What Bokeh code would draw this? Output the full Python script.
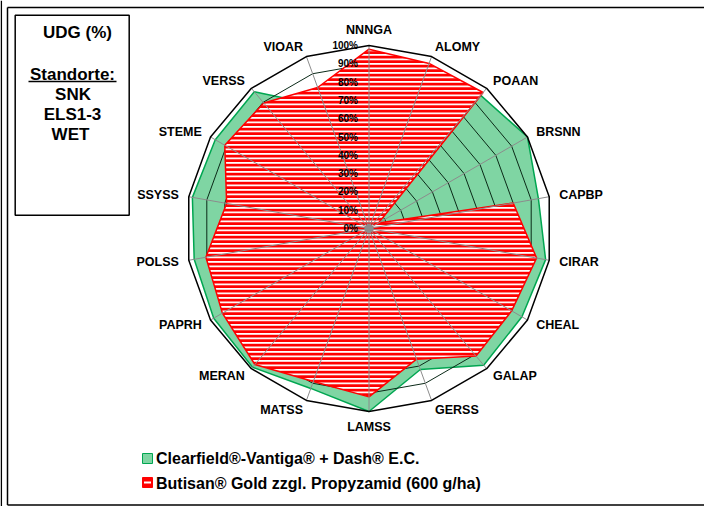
import math
from bokeh.plotting import figure
from bokeh.models import Range1d
from bokeh.core.properties import value
from bokeh.embed import file_html
from bokeh.resources import INLINE

# ---------------- data ----------------
categories = ["NNNGA", "ALOMY", "POAAN", "BRSNN", "CAPBP", "CIRAR", "CHEAL", "GALAP", "GERSS",
              "LAMSS", "MATSS", "MERAN", "PAPRH", "POLSS", "SSYSS", "STEME", "VERSS", "VIOAR"]
clearfield = [90, 90, 95, 100, 94, 98, 96.5, 97.5, 82, 100, 93, 99, 98, 97, 98, 97, 97.5, 71]
butisan = [98, 96, 97, 6, 80, 93, 90, 91, 76, 92, 89, 97, 92.5, 90.5, 79, 91, 89.5, 82]
levels = [0, 10, 20, 30, 40, 50, 60, 70, 80, 90, 100]
tick_labels = ["0%", "10%", "20%", "30%", "40%", "50%", "60%", "70%", "80%", "90%", "100%"]
series_names = ["Clearfield\u00ae-Vantiga\u00ae + Dash\u00ae E.C.",
                "Butisan\u00ae Gold zzgl. Propyzamid (600 g/ha)"]
info_lines = ["UDG (%)", "Standorte:", "SNK", "ELS1-3", "WET"]

# ---------------- geometry ----------------
W, H = 704, 506
CX, CY = 376.5, 236.0     # page pixel position of the radar centre
S = 1.83                  # pixels per percent


def px(xp):
    return (xp - CX) / S


def py(yp):
    return (CY - yp) / S


FONT = value("Liberation Sans")
n = len(categories)
ang = [2 * math.pi * i / n for i in range(n)]


def poly(vals):
    xs = [v * math.sin(a) for v, a in zip(vals, ang)]
    ys = [v * math.cos(a) for v, a in zip(vals, ang)]
    return xs, ys


p = figure(width=W, height=H, output_backend="svg", toolbar_location=None,
           x_range=Range1d(px(8), px(8 + W)), y_range=Range1d(py(8 + H), py(8)),
           x_axis_location=None, y_axis_location=None, min_border=0)
p.grid.visible = False
p.outline_line_color = None
p.background_fill_color = "white"

GREEN_FILL = "#7fd5a3"
GREEN_LINE = "#00a651"

# green series (behind)
gx, gy = poly(clearfield)
p.patch(gx, gy, fill_color=GREEN_FILL, line_color=GREEN_LINE, line_width=1.5)

# concentric gridlines 10..90
for lv in levels[1:-1]:
    xs, ys = poly([lv] * n)
    p.line(xs + [xs[0]], ys + [ys[0]], line_color="#0b2a18", line_width=1)

# red hatched series
rx, ry = poly(butisan)
p.patch(rx, ry, fill_color="white", hatch_pattern="horizontal_line", hatch_color="#ff0000",
        hatch_scale=4.5, hatch_weight=3, line_color="#ff0000", line_width=1.5)

# spokes
sx, sy = poly([100] * n)
p.segment(x0=[0] * n, y0=[0] * n, x1=sx, y1=sy, line_color="#8c8c8c", line_width=1)
p.scatter([0], [0], size=9, fill_color="#8c8c8c", line_color=None)

# outer 100% polygon
p.line(sx + [sx[0]], sy + [sy[0]], line_color="black", line_width=1.5)

# percentage labels
p.text(x=[px(CX - 11)] * len(levels), y=levels, text=tick_labels, text_align="right",
       text_baseline="middle", text_font=FONT, text_font_style="bold",
       text_font_size="10px", text_color="black")

# category labels
lx, ly, la = [], [], []
for c, a in zip(categories, ang):
    deg = round(math.degrees(a))
    if deg in (0, 180):
        r = 108.5
        al = "center"
    else:
        r = 105.5
        al = "left" if deg < 180 else "right"
    lx.append(r * math.sin(a))
    ly.append(r * math.cos(a))
    la.append(al)
for al in ("left", "right", "center"):
    idx = [i for i in range(n) if la[i] == al]
    p.text(x=[lx[i] for i in idx], y=[ly[i] for i in idx], text=[categories[i] for i in idx],
           text_align=al, text_baseline="middle", text_font=FONT, text_font_style="bold",
           text_font_size="12.5px", text_color="black")

# frame lines
p.segment(x0=[px(8.8)], y0=[py(8)], x1=[px(8.8)], y1=[py(8 + H)], line_color="black", line_width=1.5)
p.segment(x0=[px(15), px(15), px(15)], y0=[py(15), py(15), py(512.5)],
          x1=[px(15), px(8 + W), px(8 + W)], y1=[py(512.5), py(15), py(512.5)],
          line_color="black", line_width=1.5)

# info box
p.quad(left=[px(22.7)], right=[px(136.7)], top=[py(22.7)], bottom=[py(222.7)],
       fill_color=None, line_color="black", line_width=1.5)
p.text(x=[px(85), px(80), px(80.5), px(80), px(78)],
       y=[py(40), py(81.5), py(101.5), py(121.5), py(141.5)],
       text=info_lines, text_align="center", text_baseline="middle", text_font=FONT,
       text_font_style="bold", text_font_size="17px", text_color="black")
p.segment(x0=[px(36)], y0=[py(89)], x1=[px(124)], y1=[py(89)], line_color="black", line_width=1.5)

# legend
p.quad(left=[px(150)], right=[px(160)], top=[py(461)], bottom=[py(471)],
       fill_color=GREEN_FILL, line_color=GREEN_LINE, line_width=1)
p.quad(left=[px(150)], right=[px(160)], top=[py(485)], bottom=[py(495)],
       fill_color="#ff0000", line_color="#ff0000", line_width=1)
p.segment(x0=[px(151.5)], y0=[py(490)], x1=[px(158.5)], y1=[py(490)], line_color="white", line_width=2)
p.text(x=[px(163.5), px(163.5)], y=[py(466), py(490.5)], text=series_names,
       text_align="left", text_baseline="middle", text_font=FONT, text_font_style="bold",
       text_font_size="16px", text_color="black")

open("out.html", "w").write(file_html(p, INLINE))
